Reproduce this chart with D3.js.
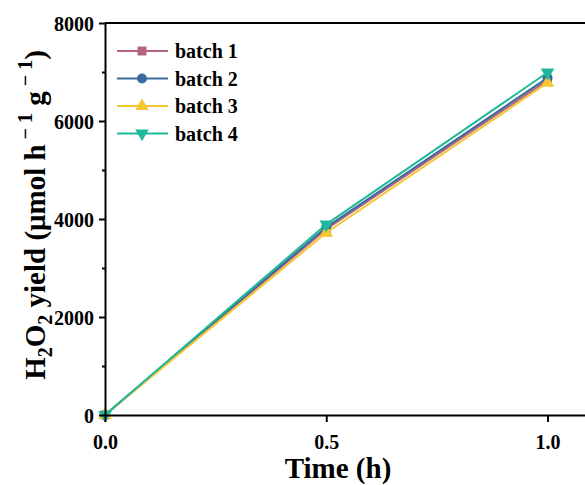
<!DOCTYPE html>
<html>
<head>
<meta charset="utf-8">
<script src="https://cdn.jsdelivr.net/npm/d3@7"></script>
<style>
body { margin:0; background:#fff; }
svg text { font-family: "Liberation Serif", "Times New Roman", serif; font-weight:bold; }
</style>
</head>
<body>
<div id="chart"></div>
<script>
var times = [0, 0.5, 1.0];
var batch1 = [0, 3790, 6830];
var batch2 = [0, 3830, 6880];
var batch3 = [0, 3720, 6780];
var batch4 = [0, 3890, 6990];
var names = ["batch 1", "batch 2", "batch 3", "batch 4"];
var colors = ["#b5637e", "#3b6b9b", "#f5c533", "#20b89a"];
var symbols = [d3.symbolSquare, d3.symbolCircle, d3.symbolTriangle, "down"];
var xTicks = [0, 0.5, 1.0];
var yTicks = [0, 2000, 4000, 6000, 8000];
var yMinor = [1000, 3000, 5000, 7000];

var width = 585, height = 485;
var x = d3.scaleLinear().domain([0, 1.1]).range([105, 591.75]);
var y = d3.scaleLinear().domain([0, 8000]).range([415, 23]);

var svg = d3.select("#chart").append("svg")
    .attr("width", width)
    .attr("height", height);

var series = [batch1, batch2, batch3, batch4];

// marker path (down triangle = rotated triangle)
function marker(i, size) {
    var t = symbols[i] === "down" ? d3.symbolTriangle : symbols[i];
    return d3.symbol().type(t).size(size)();
}

var line = d3.line()
    .x(function(d) { return x(d[0]); })
    .y(function(d) { return y(d[1]); });

series.forEach(function(s, i) {
    var pts = times.map(function(t, j) { return [t, s[j]]; });
    svg.append("path")
        .attr("d", line(pts))
        .style("fill", "none")
        .style("stroke", colors[i])
        .style("stroke-width", 2);
    svg.selectAll(".pt" + i)
        .data(pts)
        .enter().append("path")
        .attr("d", marker(i, 80))
        .attr("transform", function(d) {
            var r = symbols[i] === "down" ? " rotate(180)" : "";
            return "translate(" + x(d[0]) + "," + y(d[1]) + ")" + r;
        })
        .style("fill", colors[i]);
});

// axes
var xAxis = d3.axisBottom(x).tickValues(xTicks).tickFormat(d3.format(".1f")).tickSize(7).tickSizeOuter(0);
var gx = svg.append("g").attr("transform", "translate(0,415)").call(xAxis);
gx.selectAll("text").style("font-size", "20px").attr("dy", "1.2em");

var yAxis = d3.axisLeft(y).tickValues(yTicks).tickFormat(d3.format("d")).tickSize(6).tickSizeOuter(0);
var gy = svg.append("g").attr("transform", "translate(105,0)").call(yAxis);
gy.selectAll("text").style("font-size", "20px").attr("x", -11).attr("dy", "0.35em");

var gm = svg.append("g").attr("transform", "translate(105,0)")
    .call(d3.axisLeft(y).tickValues(yMinor).tickSize(3).tickFormat(""));
gm.select(".domain").remove();

[gx, gy, gm].forEach(function(g) {
    g.selectAll("line").style("stroke", "#000").style("stroke-width", 2);
    g.selectAll(".domain").style("stroke", "#000").style("stroke-width", 2);
    g.selectAll("text").style("fill", "#000");
});

// top frame line
svg.append("line")
    .attr("x1", x(0)).attr("x2", width)
    .attr("y1", y(8000)).attr("y2", y(8000))
    .style("stroke", "#000").style("stroke-width", 2);

// axis titles
svg.append("text")
    .attr("x", 338).attr("y", 478)
    .attr("text-anchor", "middle")
    .style("font-size", "29px")
    .text("Time (h)");

var yt = svg.append("text")
    .attr("transform", "translate(45,215) rotate(-90)")
    .attr("text-anchor", "middle")
    .style("font-size", "29px");
yt.append("tspan").text("H");
yt.append("tspan").attr("dy", 7).style("font-size", "20px").text("2");
yt.append("tspan").attr("dy", -7).text("O");
yt.append("tspan").attr("dy", 7).style("font-size", "20px").text("2");
yt.append("tspan").attr("dy", -7).text(" yield (\u03bcmol h");
yt.append("tspan").attr("dy", -13).style("font-size", "20px").text(" \u2212 1");
yt.append("tspan").attr("dy", 13).text(" g");
yt.append("tspan").attr("dy", -13).style("font-size", "20px").text(" \u2212 1");
yt.append("tspan").attr("dy", 13).text(")");

// legend
var legend = svg.selectAll(".legend")
    .data(names)
    .enter().append("g")
    .attr("class", "legend")
    .attr("transform", function(d, i) { return "translate(117," + (51 + i * 27.5) + ")"; });

legend.append("line")
    .attr("x1", 0).attr("x2", 51)
    .style("stroke", function(d, i) { return colors[i]; })
    .style("stroke-width", 2);

legend.append("path")
    .attr("d", function(d, i) { return marker(i, 80); })
    .attr("transform", function(d, i) { return "translate(25,0)" + (symbols[i] === "down" ? " rotate(180)" : ""); })
    .style("fill", function(d, i) { return colors[i]; });

legend.append("text")
    .attr("x", 58).attr("dy", "0.35em")
    .style("font-size", "20px")
    .text(function(d) { return d; });
</script>
</body>
</html>
